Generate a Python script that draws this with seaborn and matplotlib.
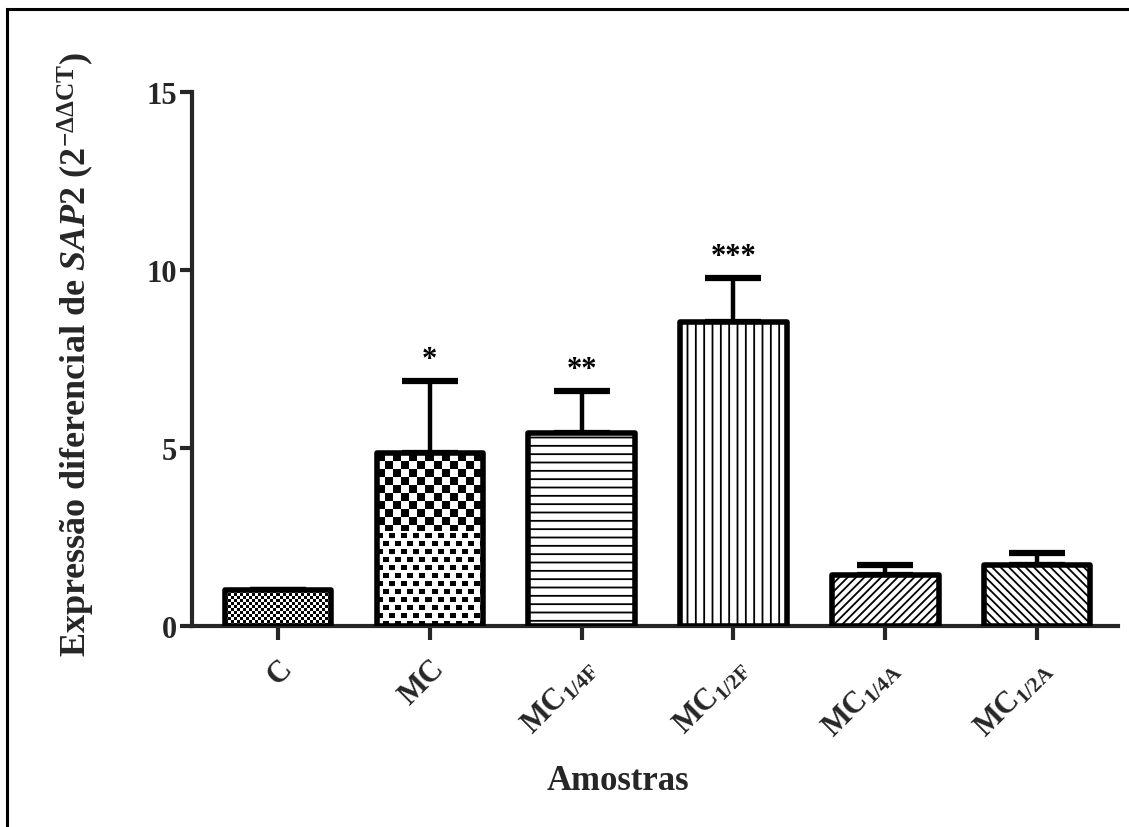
import numpy as np
import pandas as pd
import seaborn as sns
import matplotlib
matplotlib.use("Agg")
import matplotlib.pyplot as plt
from matplotlib.patches import Rectangle

# Relative SAP2 expression per sample (mean and upper SEM)
samples = ["C", "MC", "MC1/4F", "MC1/2F", "MC1/4A", "MC1/2A"]
tick_labels = ["C", "MC", r"MC$_{\mathrm{1/4F}}$", r"MC$_{\mathrm{1/2F}}$",
               r"MC$_{\mathrm{1/4A}}$", r"MC$_{\mathrm{1/2A}}$"]
means = [1.0, 4.85, 5.42, 8.52, 1.43, 1.72]
sem_up = [0.0, 2.03, 1.18, 1.24, 0.28, 0.33]
stars = ["", "*", "**", "***", "", ""]
y_ticks = [0, 5, 10, 15]

sns.set_theme(style="ticks")
plt.rcParams["font.family"] = ["Liberation Serif", "DejaVu Serif"]
plt.rcParams["font.weight"] = "bold"
plt.rcParams["mathtext.fontset"] = "custom"
plt.rcParams["mathtext.rm"] = "Liberation Serif:bold"
plt.rcParams["mathtext.it"] = "Liberation Serif:italic:bold"
plt.rcParams["mathtext.bf"] = "Liberation Serif:bold"
plt.rcParams["hatch.linewidth"] = 1.3
plt.rcParams["hatch.color"] = "black"

df = pd.DataFrame({"sample": samples, "value": means})

fig = plt.figure(figsize=(11.29, 8.28), dpi=100)
ax = fig.add_axes([0.170, 0.243, 0.820, 0.645])

sns.barplot(data=df, x="sample", y="value", order=samples, ax=ax,
            width=0.70, color="white", edgecolor="black", linewidth=4.0,
            errorbar=None, saturation=1)

bars = list(ax.patches)
hatches = [None, None, "--", "||", "////", "\\\\\\\\"]
for bar, h in zip(bars, hatches):
    bar.set_joinstyle("round")
    bar.set_zorder(3)
    if h:
        bar.set_hatch(h)

# Upper error bars
xs = np.arange(len(samples))
ax.errorbar(xs, means, yerr=[np.zeros(len(means)), sem_up], fmt="none",
            ecolor="black", elinewidth=3.2, capsize=20, capthick=4.5, zorder=2)

# Significance marks
for x, m, e, s in zip(xs, means, sem_up, stars):
    if s:
        ax.text(x, m + e + 0.2, s, ha="center", va="bottom",
                fontsize=22, fontweight="bold", color="black")

ax.set_ylim(0, 15)
ax.set_xlim(-0.566, 5.53)
ax.set_yticks(y_ticks)
ax.set_yticklabels([str(t) for t in y_ticks], fontsize=22, fontweight="bold")
ax.set_xticks(xs)
ax.set_xticklabels(tick_labels, fontsize=22, fontweight="bold",
                   rotation=45, ha="right", rotation_mode="anchor")
ax.tick_params(axis="y", direction="out", length=9, width=3, pad=2)
ax.tick_params(axis="x", direction="out", length=10, width=3, pad=10)
sns.despine(ax=ax)
for side in ("left", "bottom"):
    ax.spines[side].set_linewidth(3)
ax.set_xlabel("Amostras", fontsize=25, fontweight="bold", va="center")
ax.xaxis.set_label_coords(0.46, -0.29)
ax.set_ylabel(r"Expressão diferencial de $\mathit{SAP2}$ (2$^{\mathrm{-\Delta\Delta CT}}$)",
              fontsize=26, fontweight="bold")
ax.yaxis.set_label_coords(-0.125, 0.51)
ax.yaxis.label.set_va("center")

# Pixel textures for the first two bars (fine checkerboard and block pattern)
fig.canvas.draw()


def texture(bar, kind):
    bb = bar.get_window_extent()
    w, h = int(round(bb.width)), int(round(bb.height))
    yy, xx = np.mgrid[0:h, 0:w]
    if kind == "fine":
        img = ((xx // 3 + yy // 3) % 2 == 0).astype(float)
    else:
        row = yy // 8
        col = (xx + (row % 2) * 6) // 6
        dark = (col % 2 == 0) & ((yy % 8) < 5)
        top = yy < h * 0.45
        checker = ((xx // 8 + yy // 8) % 2 == 0)
        img = np.where(top, checker, dark).astype(float)
    x0, y0 = bar.get_x(), bar.get_y()
    ext = [x0, x0 + bar.get_width(), y0, y0 + bar.get_height()]
    im = ax.imshow(1 - img, cmap="gray", vmin=0, vmax=1, extent=ext,
                   origin="upper", interpolation="nearest", aspect="auto",
                   zorder=2.5)
    im.set_clip_path(bar)
    bar.set_facecolor("none")


texture(bars[0], "fine")
texture(bars[1], "block")
ax.set_xlim(-0.566, 5.53)
ax.set_ylim(0, 15)

# Frame around the figure
fig.patches.append(Rectangle((7 / 1129, -0.1), 1.2, 0.988 + 0.1, fill=False,
                             edgecolor="black", linewidth=2.2,
                             transform=fig.transFigure, figure=fig))

fig.savefig("out.png", dpi=100)
